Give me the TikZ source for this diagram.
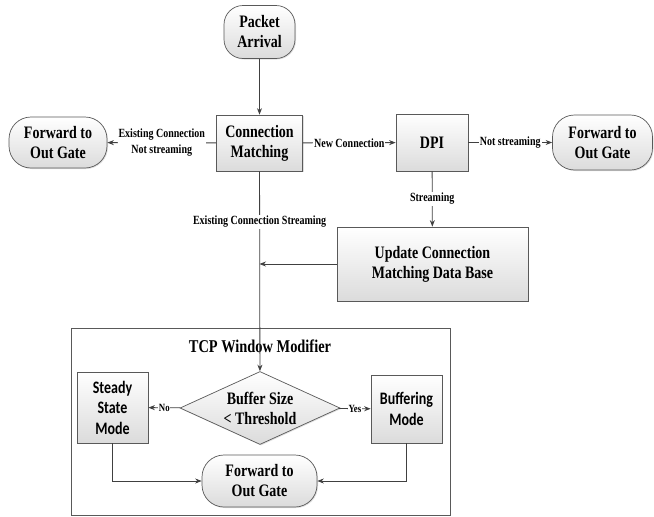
\documentclass[tikz,border=0pt]{standalone}
\usepackage{fontspec}
\setmainfont{Liberation Serif}[FakeStretch=0.8, BoldFont={Liberation Serif Bold}, BoldFeatures={FakeStretch=0.8}]
\newfontfamily\calfont{Carlito}[FakeStretch=0.8, BoldFont={Carlito Bold}, BoldFeatures={FakeStretch=0.8}]
\usetikzlibrary{shapes.geometric,arrows.meta,shadows}
\begin{document}
\begin{tikzpicture}[x=1pt,y=-1pt,
  line/.style={draw=black!75, line width=0.8pt},
  arr/.style={line, -{Stealth[length=6.5pt,width=5pt]}},
  box/.style={draw=black!65, line width=0.7pt, top color=white, bottom color=black!14,
    drop shadow={opacity=0.25, shadow xshift=1pt, shadow yshift=-1pt},
    align=center, inner sep=2pt, font=\fontsize{17.5}{20}\selectfont\rmfamily\bfseries},
  rbox/.style={box, rounded corners=19pt},
  lbl/.style={fill=white, inner sep=1pt, align=center, font=\fontsize{12.5}{16}\selectfont\rmfamily\bfseries},
  slbl/.style={fill=white, inner sep=0.5pt, font=\fontsize{11}{13}\selectfont\rmfamily\bfseries},
  container/.style={draw=black!65, line width=0.7pt, fill=white}]
\useasboundingbox (0,0) rectangle (654,517);

% container
\node[container, minimum width=379pt, minimum height=187pt, inner sep=0pt] (tcp) at (260.5,422) {};
\node[font=\fontsize{18}{20}\selectfont\rmfamily\bfseries] (title) at (260,346) {TCP Window Modifier};

% nodes
\node[rbox, minimum width=71pt, minimum height=53pt] (pa) at (259.5,32) {Packet\\Arrival};
\node[box, minimum width=86pt, minimum height=56pt] (cm) at (259.5,143) {Connection\\Matching};
\node[rbox, rounded corners=22pt, minimum width=98pt, minimum height=51pt] (fl) at (58,142.5) {Forward to\\Out Gate};
\node[box, minimum width=72pt, minimum height=57pt] (dpi) at (432,142.5) {DPI};
\node[rbox, rounded corners=22pt, minimum width=100pt, minimum height=55pt] (fr) at (602.5,142.5) {Forward to\\Out Gate};
\node[box, minimum width=191pt, minimum height=74pt] (upd) at (432.5,264) {Update Connection\\Matching Data Base};
\node[box, diamond, aspect=2.2, inner sep=0pt, minimum width=160pt, minimum height=73pt] (dec) at (260,408) {Buffer Size\\\textless{} Threshold};
\node[box, font=\fontsize{17.5}{20.5}\selectfont\calfont\bfseries, minimum width=71pt, minimum height=71pt] (ss) at (112.5,407.5) {Steady\\State\\Mode};
\node[box, font=\fontsize{17.5}{20.5}\selectfont\calfont\bfseries, minimum width=71pt, minimum height=68pt] (bm) at (406.5,409) {Buffering\\Mode};
\node[rbox, rounded corners=22pt, minimum width=115pt, minimum height=52pt] (fb) at (259.5,481) {Forward to\\Out Gate};

\coordinate (j) at (cm.south |- upd.west);

% connectors
\draw[arr] (pa) -- (cm);
\draw[arr] (cm) -- node[lbl] (l1) {Existing Connection\\Not streaming} (fl);
\draw[arr] (cm) -- node[lbl] (l2) {New Connection} (dpi);
\draw[arr] (dpi) -- node[lbl] (l3) {Not streaming} (fr);
\draw[arr] (dpi) -- node[lbl, pos=0.5] (l4) {Streaming} (upd);
\draw[arr] (cm) -- node[lbl, pos=0.253] (l5) {Existing Connection Streaming} (dec);
\draw[arr] (upd) -- (j);
\draw[arr] (dec) -- node[slbl] (l6) {No} (ss);
\draw[arr] (dec) -- node[slbl] (l7) {Yes} (bm);
\draw[arr] (ss) |- (fb);
\draw[arr] (bm) |- (fb);
\end{tikzpicture}
\end{document}
